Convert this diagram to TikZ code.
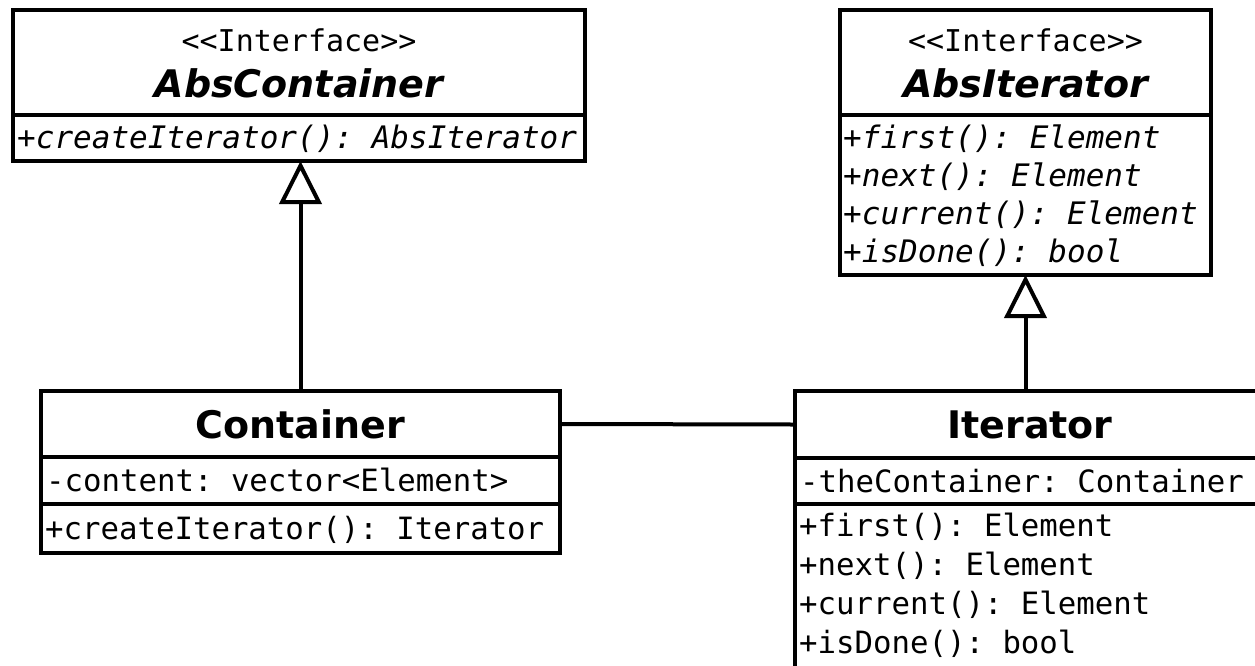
\documentclass[tikz,border=0pt]{standalone}
\usepackage{fontspec}
\setmainfont{DejaVu Sans}
\setmonofont{DejaVu Sans Mono}
\usetikzlibrary{arrows.meta,calc}
\begin{document}
\begin{tikzpicture}[x=1pt,y=-1pt,
  cell/.style={draw, line width=4pt, rectangle, inner sep=0pt, outer sep=0pt,
               anchor=north west, fill=white},
  stereo/.style={inner sep=0pt, anchor=base, font=\fontsize{30}{36}\ttfamily},
  title/.style={inner sep=0pt, anchor=base, font=\fontsize{38}{45}\bfseries},
  atitle/.style={title, font=\fontsize{38}{45}\bfseries\itshape},
  member/.style={inner sep=0pt, anchor=base west, font=\fontsize{30.7}{37}\ttfamily},
  amember/.style={member, font=\fontsize{31}{37}\ttfamily\itshape},
  link/.style={line width=4pt},
  inherit/.style={line width=4pt,
    -{Triangle[open, length=43pt, width=42pt, line width=4pt, fill=white]}}]
\path[use as bounding box, clip] (0,0) rectangle (1255,665);

% interface AbsContainer
\node[cell, minimum width=572pt, minimum height=105pt] (ac-head) at (13,10) {};
\node[cell, minimum width=572pt, minimum height=46pt] (ac-meth) at (13,115) {};
\node[stereo] (ac-st) at ($(ac-head.north)+(0,41)$) {<{}<Interface>{}>};
\node[atitle] (ac-name) at ($(ac-head.north)+(0,87)$) {AbsContainer};
\node[amember] (ac-m1) at ($(ac-meth.north west)+(4,33)$) {+createIterator(): AbsIterator};

% interface AbsIterator
\node[cell, minimum width=371pt, minimum height=105pt] (ai-head) at (840,10) {};
\node[cell, minimum width=371pt, minimum height=160pt] (ai-meth) at (840,115) {};
\node[stereo] (ai-st) at ($(ai-head.north)+(0,41)$) {<{}<Interface>{}>};
\node[atitle] (ai-name) at ($(ai-head.north)+(0,87)$) {AbsIterator};
\foreach \t [count=\i] in {+first(): Element, +next(): Element,
                           +current(): Element, +isDone(): bool}
  \node[amember] (ai-m\i) at ($(ai-meth.north west)+(3,33+38*\i-38)$) {\t};

% class Container
\node[cell, minimum width=519pt, minimum height=66pt] (ct-head) at (41,391) {};
\node[cell, minimum width=519pt, minimum height=47pt] (ct-attr) at (41,457) {};
\node[cell, minimum width=519pt, minimum height=49pt] (ct-meth) at (41,504) {};
\node[title] (ct-name) at ($(ct-head.north)+(0,47)$) {Container};
\node[member] (ct-a1) at ($(ct-attr.north west)+(5,34)$) {-content: vector<Element>};
\node[member] (ct-m1) at ($(ct-meth.north west)+(4,35)$) {+createIterator(): Iterator};

% class Iterator
\node[cell, minimum width=470pt, minimum height=67pt] (it-head) at (795,391) {};
\node[cell, minimum width=470pt, minimum height=46pt] (it-attr) at (795,458) {};
\node[cell, minimum width=470pt, minimum height=190pt] (it-meth) at (795,504) {};
\node[title] (it-name) at ($(it-head.north)+(0,47)$) {Iterator};
\node[member] (it-a1) at ($(it-attr.north west)+(5,34)$) {-theContainer: Container};
\foreach \t [count=\i] in {+first(): Element, +next(): Element,
                           +current(): Element, +isDone(): bool}
  \node[member] (it-m\i) at ($(it-meth.north west)+(4,32+39*\i-39)$) {\t};

% relations
\draw[inherit] (ct-head.north) -- (ct-head.north |- ac-meth.south);
\draw[inherit] (ai-meth.south |- it-head.north) -- (ai-meth.south);
\draw[link] (ct-head.east) -- (it-head.west);
\end{tikzpicture}
\end{document}
